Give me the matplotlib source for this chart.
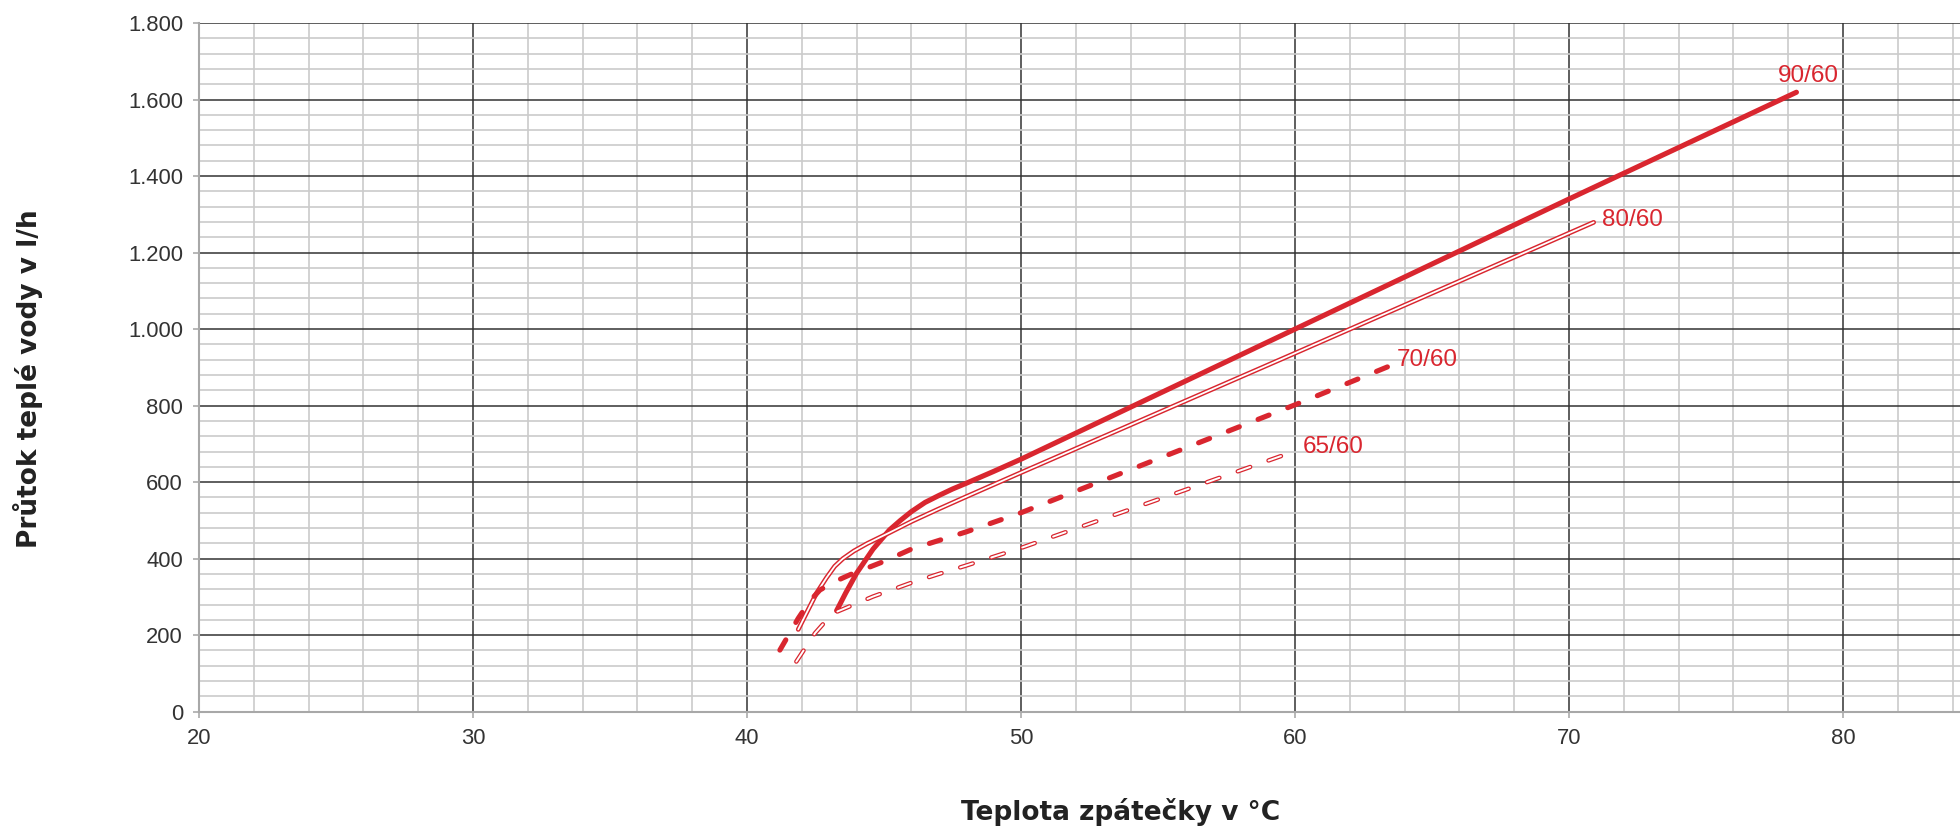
import matplotlib
matplotlib.use('Agg')
import matplotlib.pyplot as plt
from matplotlib.ticker import MultipleLocator

plt.rcParams['font.family'] = ['Liberation Sans', 'DejaVu Sans']
plt.rcParams['lines.scale_dashes'] = False

RED = '#d9262f'

# curve data: return temperature (deg C) vs flow (l/h)
t_90 = [43.27, 43.6, 44.0, 44.6, 45.2, 45.6, 46.0, 46.5, 47.0, 47.5, 48.0,
        49.0, 50.0, 60.0, 70.0, 78.3]
q_90 = [264, 310, 362, 425, 475, 500, 523, 547, 565, 582, 597,
        628, 660, 1000, 1340, 1619]

t_80 = [41.87, 42.2, 42.54, 42.9, 43.2, 43.5, 43.9, 44.4, 45.2, 46.0,
        47.0, 48.0, 50.0, 60.0, 70.9]
q_80 = [215, 262, 310, 350, 380, 400, 420, 440, 468, 497,
        530, 562, 625, 937, 1279]

t_70 = [41.2, 41.87, 42.3, 42.66, 43.2, 43.76, 44.97, 46.0, 48.0, 50.0,
        60.0, 63.47]
q_70 = [161, 244, 290, 318, 340, 358, 392, 425, 470, 520, 802, 904]

t_65 = [41.8, 42.12, 42.48, 42.85, 43.27, 43.87, 44.6, 46.0, 47.0, 48.0,
        50.0, 59.88]
q_65 = [131, 166, 205, 235, 261, 279, 301, 337, 360, 382, 428, 678]

curve_labels = ['90/60', '80/60', '70/60', '65/60']
label_pos = [(78.75, 1662, 'center'), (71.2, 1284, 'left'),
             (63.7, 919, 'left'), (60.3, 693, 'left')]

x_ticks = [20, 30, 40, 50, 60, 70, 80]
y_ticks = [0, 200, 400, 600, 800, 1000, 1200, 1400, 1600, 1800]
y_tick_labels = ['0', '200', '400', '600', '800', '1.000', '1.200',
                 '1.400', '1.600', '1.800']

fig = plt.figure(figsize=(19.6, 8.33), dpi=100)
ax = fig.add_axes([199 / 1960, 121.3 / 833, 1761 / 1960, 688.7 / 833])
ax.set_xlim(20, 84.27)
ax.set_ylim(0, 1800)

ax.set_xticks(x_ticks)
ax.set_yticks(y_ticks)
ax.set_yticklabels(y_tick_labels)
ax.xaxis.set_minor_locator(MultipleLocator(2))
ax.yaxis.set_minor_locator(MultipleLocator(40))
ax.set_axisbelow(True)
ax.grid(which='minor', color='#cbcbcb', linewidth=1.2)
ax.grid(which='major', color='#333333', linewidth=1.1)
ax.tick_params(which='minor', length=0)
ax.tick_params(which='major', length=4.5, width=1.2, color='#aaaaaa',
               labelsize=15.8, labelcolor='#333333', pad=7)

for side in ('top', 'right'):
    ax.spines[side].set_visible(False)
for side in ('left', 'bottom'):
    ax.spines[side].set_color('#a8a8a8')
    ax.spines[side].set_linewidth(1.5)

# 90/60 thick solid
ax.plot(t_90, q_90, color=RED, lw=3.7, solid_capstyle='round',
        solid_joinstyle='round')
# 80/60 double line
ax.plot(t_80, q_80, color=RED, lw=3.4, solid_capstyle='round',
        solid_joinstyle='round')
ax.plot(t_80, q_80, color='white', lw=1.3, solid_capstyle='round',
        solid_joinstyle='round')
# 70/60 thick dashed
ax.plot(t_70, q_70, color=RED, lw=3.7, dashes=(8.5, 14.5),
        dash_capstyle='round', dash_joinstyle='round')
# 65/60 double dashed
ax.plot(t_65, q_65, color=RED, lw=3.2, dashes=(9.5, 14),
        dash_capstyle='round', dash_joinstyle='round')
ax.plot(t_65, q_65, color='white', lw=1.4, dashes=(9.5, 14),
        dash_capstyle='round', dash_joinstyle='round')

for text, (x, y, ha) in zip(curve_labels, label_pos):
    ax.text(x, y, text, color=RED, fontsize=17.5, ha=ha, va='center')

fig.text(1121 / 1960, 1 - 812 / 833, 'Teplota zpátečky v °C',
         fontsize=19, fontweight='bold', family='DejaVu Sans',
         color='#222222', ha='center', va='center')
fig.text(28 / 1960, 1 - 379 / 833, 'Průtok teplé vody v l/h',
         fontsize=19, fontweight='bold', family='DejaVu Sans',
         color='#222222', ha='center', va='center', rotation=90)

fig.savefig('out.png', dpi=100)
